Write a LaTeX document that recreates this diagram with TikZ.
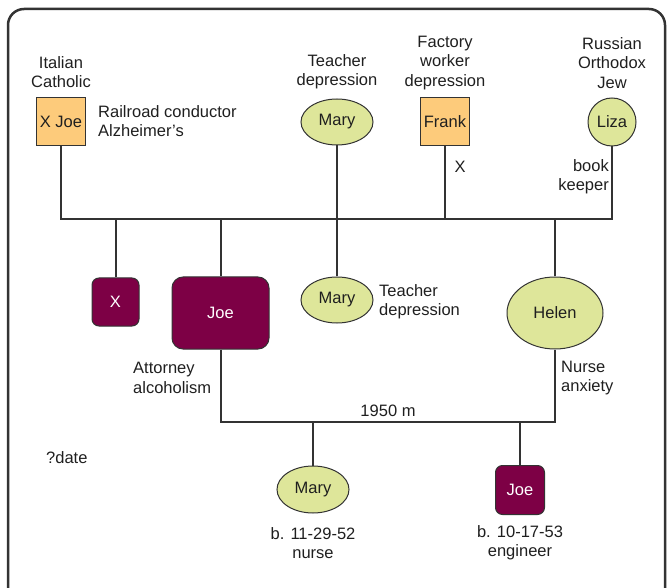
\documentclass[tikz,border=0pt]{standalone}
\usepackage{fontspec}
\setmainfont{Liberation Sans}
\usetikzlibrary{shapes.geometric}
\definecolor{framegray}{HTML}{333333}
\definecolor{maleorange}{HTML}{FDCB7B}
\definecolor{femalelime}{HTML}{DEE69A}
\definecolor{maroon}{HTML}{7D0045}
\tikzset{
  txt/.style={font=\fontsize{16.5}{19.3}\selectfont, text=black!88, inner sep=0pt},
  ctxt/.style={txt, align=center},
  ltxt/.style={txt, align=left, anchor=west},
  rtxt/.style={txt, align=right, anchor=east},
  conn/.style={line width=2pt, draw=framegray},
  malebox/.style={draw=framegray, line width=1pt, fill=maleorange, minimum width=49pt, minimum height=48pt, inner sep=0pt, font=\fontsize{16.5}{19}\selectfont, text=black!88},
  femaleoval/.style={ellipse, draw=framegray, line width=1pt, fill=femalelime, inner sep=0pt, font=\fontsize{16.5}{19}\selectfont, text=black!88},
  sonbox/.style={draw=framegray, line width=1pt, fill=maroon, rounded corners=7pt, inner sep=0pt, font=\fontsize{16.5}{19}\selectfont, text=white}
}
\begin{document}
\begin{tikzpicture}[x=1pt, y=-1pt]
\useasboundingbox (0,0) rectangle (667,588);
\clip (0,0) rectangle (667,588);
\draw[line width=2.5pt, draw=framegray, rounded corners=16pt] (8,9) rectangle (665,640);

% grandparents
\node[malebox] (xjoe) at (61,122) {X Joe};
\node[femaleoval, minimum width=72pt, minimum height=46pt] (marytop) at (337,122) {Mary};
\node[malebox] (frank) at (445,122) {Frank};
\node[femaleoval, minimum width=48pt, minimum height=48pt] (liza) at (612,122) {Liza};

\node[ctxt] (t1) at (61,72) {Italian\\Catholic};
\node[ltxt] (t2) at (98,121) {Railroad conductor\\Alzheimer's};
\node[ctxt] (t3) at (337,72) {Teacher\\depression};
\node[ctxt] (t4) at (445,63) {Factory\\worker\\depression};
\node[ctxt] (t5) at (460,167) {X};
\node[ctxt] (t6) at (612,63) {Russian\\Orthodox\\Jew};
\node[rtxt] (t7) at (609,177) {book\\keeper};

% parents' generation
\node[sonbox, minimum width=47pt, minimum height=48pt] (xchild) at (115.5,302) {X};
\node[sonbox, minimum width=97pt, minimum height=72pt, rounded corners=11pt] (joe) at (220.5,313) {Joe};
\node[femaleoval, minimum width=72pt, minimum height=46pt] (marymid) at (337,300) {Mary};
\node[femaleoval, minimum width=96pt, minimum height=72pt] (helen) at (555,313) {Helen};

\node[ltxt] (t8) at (379,302) {Teacher\\depression};
\node[ltxt] (t9) at (133,378) {Attorney\\alcoholism};
\node[ltxt] (t10) at (561,378) {Nurse\\anxiety};
\node[ctxt] (t11) at (388,411) {1950 m};
\node[ltxt] (t12) at (46,458) {?date};

% grandchildren
\node[femaleoval, minimum width=72pt, minimum height=47pt] (marykid) at (313,489.5) {Mary};
\node[sonbox, minimum width=49pt, minimum height=49pt] (joekid) at (520,490) {Joe};
\node[ctxt] (t13) at (313,543) {b. 11-29-52\\nurse};
\node[ctxt] (t14) at (520,543) {b. 10-17-53\\engineer};

% sibship line of the parents' generation
\coordinate (sibR) at (612,219);
\draw[conn] (xjoe.south) |- (sibR) -- (liza.south);
\draw[conn] (marytop.south) -- (marytop.south |- sibR);
\draw[conn] (frank.south) -- (frank.south |- sibR);
\draw[conn] (xchild.north) -- (xchild.north |- sibR);
\draw[conn] (joe.north) -- (joe.north |- sibR);
\draw[conn] (marymid.north) -- (marymid.north |- sibR);
\draw[conn] (helen.north) -- (helen.north |- sibR);

% marriage and children
\coordinate (marR) at (555,422);
\draw[conn] (joe.south) |- (marR) -- (helen.south);
\draw[conn] (marykid.north) -- (marykid.north |- marR);
\draw[conn] (joekid.north) -- (joekid.north |- marR);
\end{tikzpicture}
\end{document}
